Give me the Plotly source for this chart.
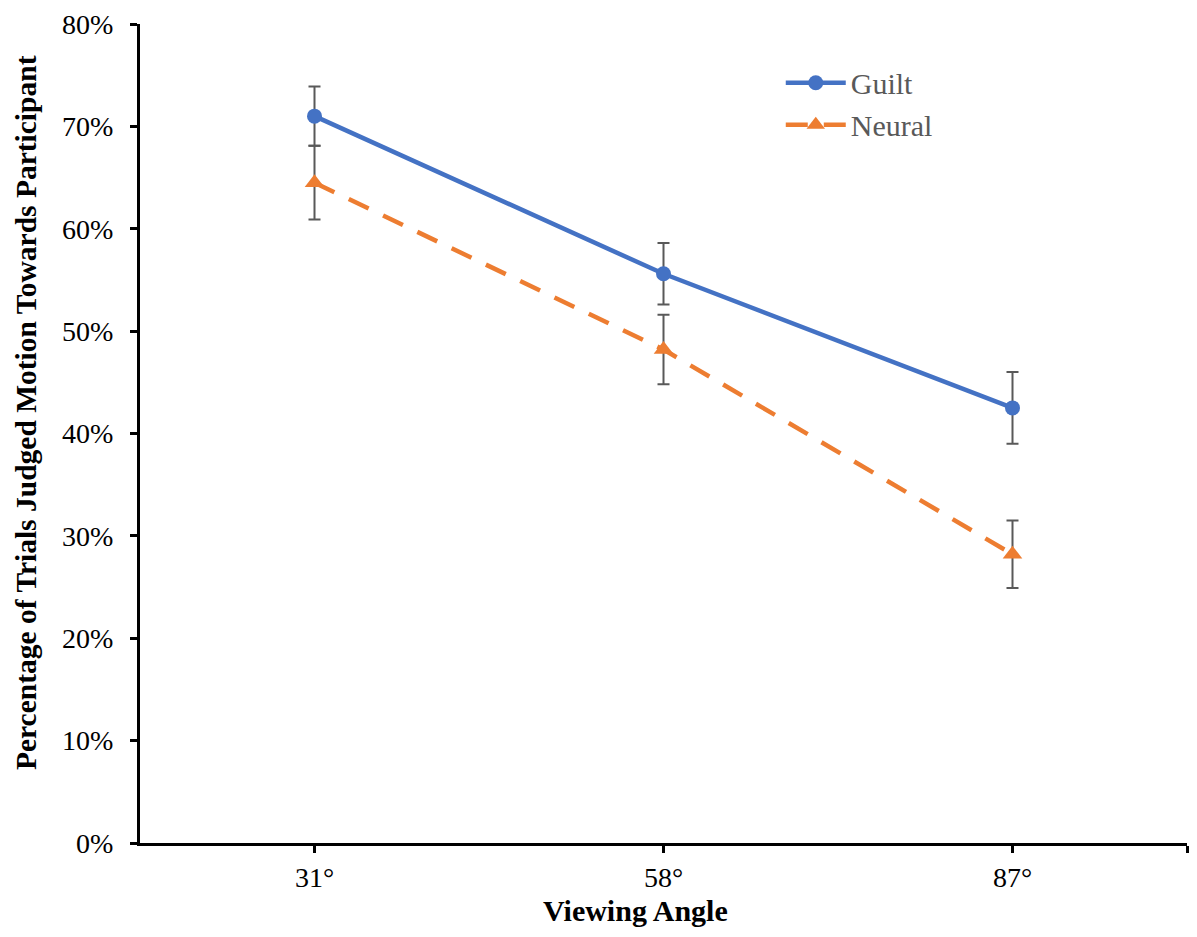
import plotly.graph_objects as go

angles = ["31°", "58°", "87°"]
guilt = [71.0, 55.6, 42.5]
guilt_err = [2.9, 3.0, 3.5]
neural = [64.5, 48.2, 28.2]
neural_err = [3.6, 3.4, 3.3]
y_ticks = [0, 10, 20, 30, 40, 50, 60, 70, 80]
y_tick_labels = [f"{v}%" for v in y_ticks]

xpos = list(range(len(angles)))
FONT = "Liberation Serif, Times New Roman, serif"

fig = go.Figure()
fig.add_trace(go.Scatter(
    x=xpos, y=guilt, name="Guilt", mode="lines+markers",
    line=dict(color="#4472C4", width=4.5),
    marker=dict(symbol="circle", size=15, color="#4472C4"),
    error_y=dict(type="data", array=guilt_err, visible=True,
                 color="#595959", thickness=2, width=6),
))
fig.add_trace(go.Scatter(
    x=xpos, y=neural, name="Neural", mode="lines+markers",
    line=dict(color="#ED7D31", width=4.5, dash="22px,16px"),
    marker=dict(symbol="triangle-up", size=17, color="#ED7D31"),
    error_y=dict(type="data", array=neural_err, visible=True,
                 color="#595959", thickness=2, width=6),
))

fig.update_layout(
    width=1181, height=921,
    margin=dict(l=132, r=2, t=16, b=86),
    paper_bgcolor="white", plot_bgcolor="white",
    font=dict(family=FONT, size=28, color="black"),
    showlegend=True,
    legend=dict(x=0.612, y=0.96, xanchor="left", yanchor="top",
                font=dict(family=FONT, size=30, color="#595959"),
                bgcolor="rgba(0,0,0,0)", itemwidth=60, tracegroupgap=0),
    xaxis=dict(
        range=[-0.5, 2.5],
        tickmode="array", tickvals=xpos + [2.5], ticktext=angles + [""],
        showline=True, linecolor="black", linewidth=3,
        ticks="outside", ticklen=7, tickwidth=3, tickcolor="black",
        showgrid=False, zeroline=False,
        tickfont=dict(family=FONT, size=28, color="black"),
    ),
    yaxis=dict(
        range=[0, 80],
        tickmode="array", tickvals=y_ticks, ticktext=y_tick_labels,
        showline=True, linecolor="black", linewidth=3,
        ticks="outside", ticklen=7, tickwidth=3, tickcolor="black",
        ticklabelstandoff=11,
        showgrid=False, zeroline=False,
        tickfont=dict(family=FONT, size=28, color="black"),
    ),
    annotations=[
        dict(text="<b>Viewing Angle</b>", xref="paper", yref="paper",
             x=0.4737, y=-0.082, xanchor="center", yanchor="middle",
             showarrow=False, font=dict(family=FONT, size=30, color="black")),
        dict(text="<b>Percentage of Trials Judged Motion Towards Participant</b>",
             xref="paper", yref="paper", x=-0.109, y=0.526,
             xanchor="center", yanchor="middle", textangle=-90,
             showarrow=False, font=dict(family=FONT, size=29.5, color="black")),
    ],
)

fig.write_html("out.html")
